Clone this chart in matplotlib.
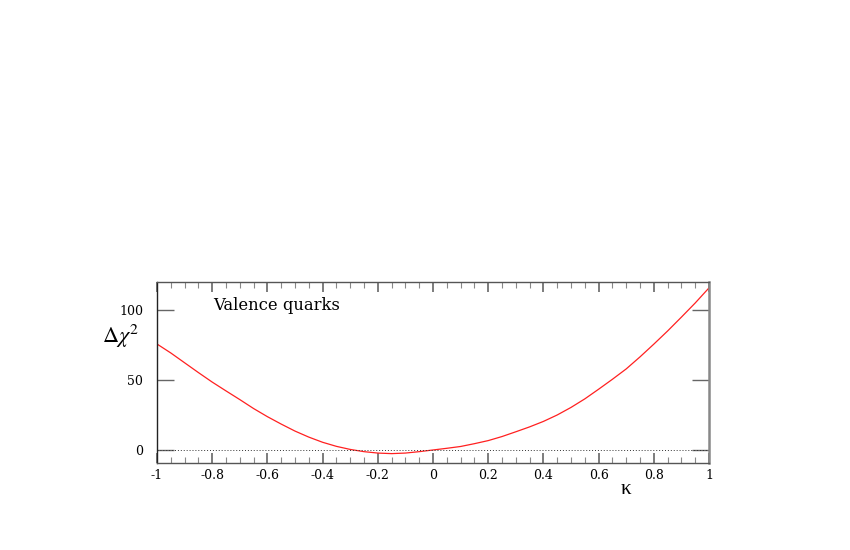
import matplotlib

matplotlib.use("Agg")
import matplotlib.pyplot as plt
from matplotlib.ticker import MultipleLocator

plt.rcParams["font.family"] = ["DejaVu Serif", "Liberation Serif"]
plt.rcParams["mathtext.fontset"] = "stix"

# values
kappa = [-1.0, -0.95, -0.9, -0.85, -0.8, -0.75, -0.7, -0.65, -0.6, -0.55,
         -0.5, -0.45, -0.4, -0.35, -0.3, -0.25, -0.2, -0.15, -0.1, -0.05,
         0.0, 0.05, 0.1, 0.15, 0.2, 0.25, 0.3, 0.35, 0.4, 0.45,
         0.5, 0.55, 0.6, 0.65, 0.7, 0.75, 0.8, 0.85, 0.9, 0.95, 1.0]
dchi2 = [75.7, 69.3, 62.3, 55.3, 48.5, 42.2, 36.0, 29.6, 23.8, 18.5,
         13.5, 9.2, 5.5, 2.6, 0.4, -1.2, -2.2, -2.6, -2.2, -1.2,
         0.0, 1.2, 2.5, 4.5, 6.7, 9.6, 13.0, 16.5, 20.4, 25.0,
         30.4, 36.5, 43.4, 50.5, 57.9, 66.5, 75.6, 85.0, 94.9, 105.0, 115.8]
xticks = [-1, -0.8, -0.6, -0.4, -0.2, 0, 0.2, 0.4, 0.6, 0.8, 1]
xlabels = ["-1", "-0.8", "-0.6", "-0.4", "-0.2", "0", "0.2", "0.4", "0.6", "0.8", "1"]
yticks = [0, 50, 100]

fig = plt.figure(figsize=(8.5, 5.5), dpi=100)
ax = fig.add_axes([157 / 850, 87 / 550, 552 / 850, 181 / 550])

ax.plot(kappa, dchi2, color="#ff2020", lw=0.9)
ax.axhline(0, color="#333333", lw=0.7, ls=(0, (1, 2)))

ax.set_xlim(-1, 1)
ax.set_ylim(-9.3, 120)
ax.set_xticks(xticks)
ax.set_xticklabels(xlabels)
ax.xaxis.set_minor_locator(MultipleLocator(0.05))
ax.set_yticks(yticks)

ax.tick_params(which="both", direction="in", top=True, right=True,
               labelsize=9, color="#666666")
ax.tick_params(which="major", length=7, width=1.2, pad=4)
ax.tick_params(which="minor", length=4, width=0.8, color="#888888")
ax.tick_params(axis="y", which="major", length=12, width=1.0, pad=10)
for s in ax.spines.values():
    s.set_color("#555555")
    s.set_linewidth(1.0)
ax.spines["left"].set_color("#222222")
ax.spines["right"].set_color("#888888")
ax.spines["right"].set_linewidth(1.8)

ax.text(0.102, 0.868, "Valence quarks", transform=ax.transAxes, fontsize=11.8,
        ha="left", va="center")
fig.text(102 / 850, 1 - 336 / 550, r"$\Delta\chi^2$", fontsize=16,
         ha="left", va="center")
fig.text(626 / 850, 1 - 490 / 550, "κ", fontsize=15,
         family=["Liberation Serif"], ha="center", va="center")

fig.savefig("out.png", dpi=100)
